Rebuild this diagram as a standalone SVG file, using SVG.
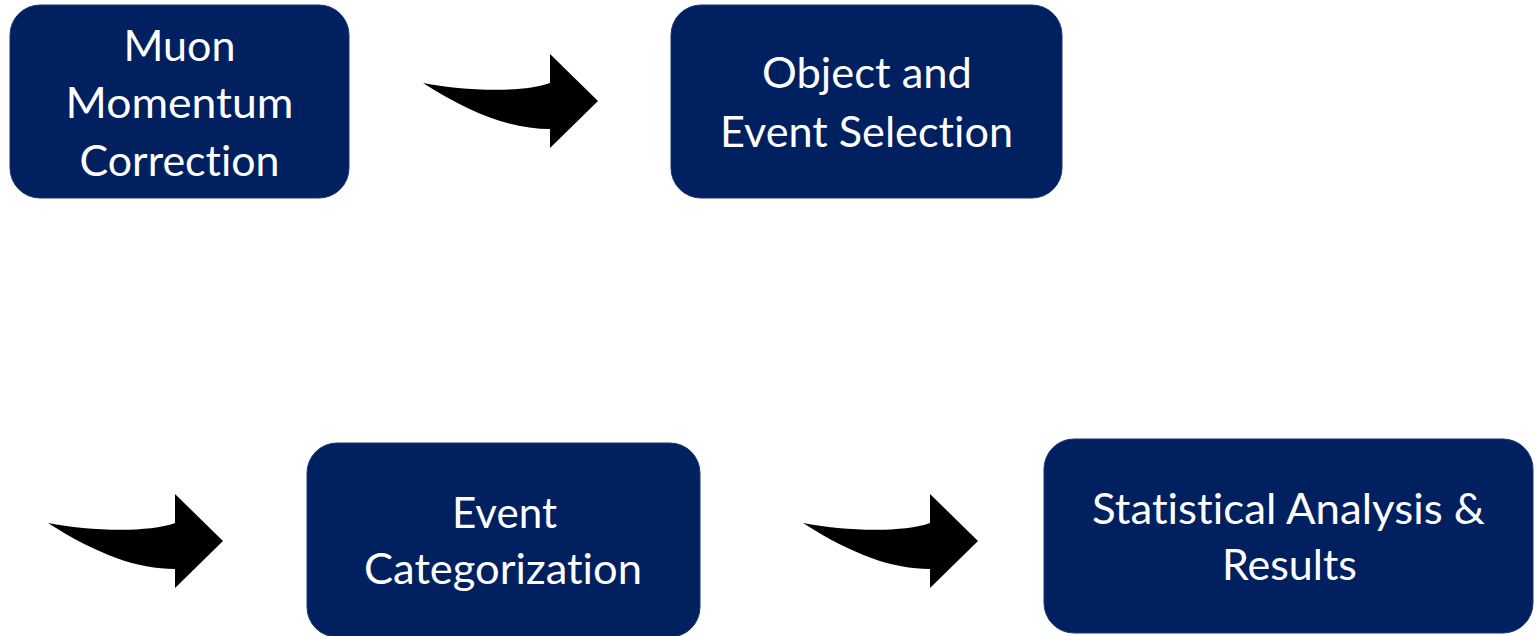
<svg xmlns="http://www.w3.org/2000/svg" width="1535" height="636" viewBox="0 0 1535 636">
  <style>
    .box { fill: #002060; stroke: #1c3670; stroke-width: 1; }
    .label { fill: #ffffff; font-family: Lato, "Open Sans", sans-serif; font-size: 42px; text-anchor: middle; font-variant-ligatures: none; font-feature-settings: "liga" 0, "dlig" 0; }
    .arrow { fill: #000000; }
  </style>
  <defs>
    <!-- curved block arrow, tail at the origin -->
    <path id="curvedArrow" d="M0,0 C40,8 100,10 127,0 L127,-29 L175,18 L127,65 L127,46 C90,46 50,32 0,0 Z"/>
  </defs>

  <rect width="1535" height="636" fill="#ffffff"/>

  <g id="connectors">
    <use href="#curvedArrow" class="arrow" x="423" y="83"/>
    <use href="#curvedArrow" class="arrow" x="48" y="523"/>
    <use href="#curvedArrow" class="arrow" x="803" y="523"/>
  </g>

  <g id="muon-momentum-correction">
    <rect class="box" x="10" y="5" width="339" height="193" rx="30" ry="30"/>
    <text class="label" x="179.5" y="61" textLength="112" lengthAdjust="spacingAndGlyphs">Muon</text>
    <text class="label" x="179.5" y="118" textLength="228" lengthAdjust="spacingAndGlyphs">Momentum</text>
    <text class="label" x="179.5" y="176" textLength="200" lengthAdjust="spacingAndGlyphs">Correction</text>
  </g>

  <g id="object-event-selection">
    <rect class="box" x="671" y="5" width="391" height="193" rx="30" ry="30"/>
    <text class="label" x="867" y="88" textLength="210" lengthAdjust="spacingAndGlyphs">Object and</text>
    <text class="label" x="866.5" y="147" textLength="293" lengthAdjust="spacingAndGlyphs">Event Selection</text>
  </g>

  <g id="event-categorization">
    <rect class="box" x="307" y="443" width="393" height="194" rx="30" ry="30"/>
    <text class="label" x="504.5" y="528" textLength="105" lengthAdjust="spacingAndGlyphs">Event</text>
    <text class="label" x="503" y="584" textLength="278" lengthAdjust="spacingAndGlyphs">Categorization</text>
  </g>

  <g id="statistical-analysis-results">
    <rect class="box" x="1044" y="439" width="489" height="194" rx="30" ry="30"/>
    <text class="label" x="1288.5" y="524" textLength="393" lengthAdjust="spacingAndGlyphs">Statistical Analysis &amp;</text>
    <text class="label" x="1289.5" y="580" textLength="135" lengthAdjust="spacingAndGlyphs">Results</text>
  </g>
</svg>
